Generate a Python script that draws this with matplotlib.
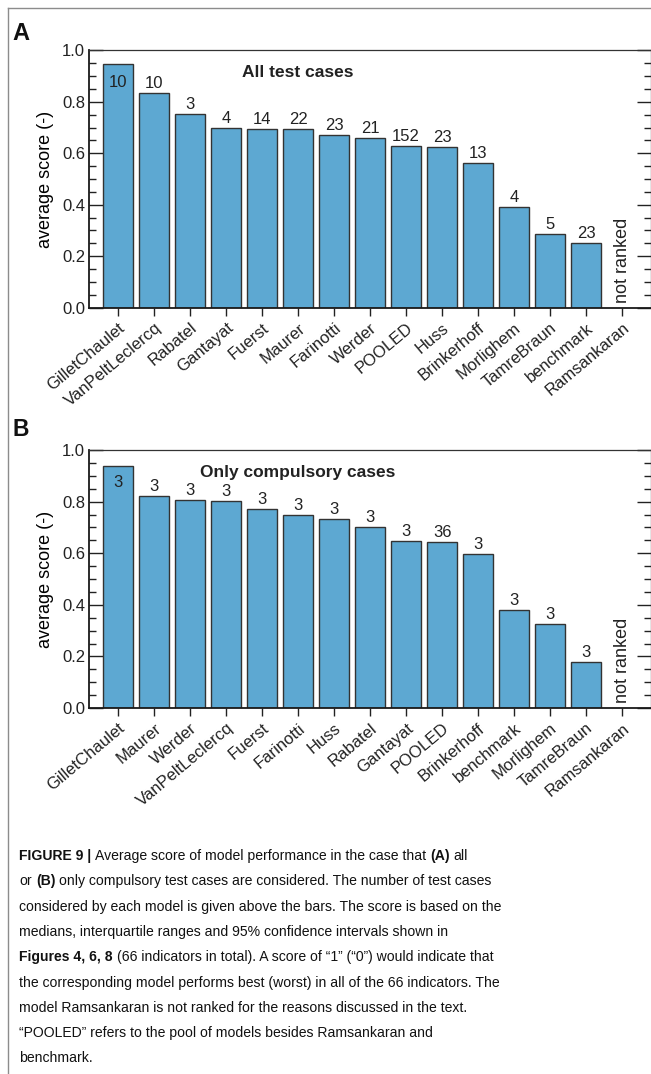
# -*- coding: utf-8 -*-
import numpy as np
import matplotlib
matplotlib.use('Agg')
import matplotlib.pyplot as plt
from matplotlib.ticker import MultipleLocator
from matplotlib.lines import Line2D
from matplotlib import font_manager

#########################################
### DATA
# (A) all test cases
models_a = ['GilletChaulet', 'VanPeltLeclercq', 'Rabatel', 'Gantayat', 'Fuerst',
            'Maurer', 'Farinotti', 'Werder', 'POOLED', 'Huss', 'Brinkerhoff',
            'Morlighem', 'TamreBraun', 'benchmark', 'Ramsankaran']
score_a = [0.946, 0.835, 0.753, 0.700, 0.696, 0.693, 0.671, 0.658, 0.627,
           0.623, 0.563, 0.393, 0.287, 0.253, np.nan]
ncases_a = [10, 10, 3, 4, 14, 22, 23, 21, 152, 23, 13, 4, 5, 23, 0]

# (B) only compulsory cases
models_b = ['GilletChaulet', 'Maurer', 'Werder', 'VanPeltLeclercq', 'Fuerst',
            'Farinotti', 'Huss', 'Rabatel', 'Gantayat', 'POOLED', 'Brinkerhoff',
            'benchmark', 'Morlighem', 'TamreBraun', 'Ramsankaran']
score_b = [0.937, 0.823, 0.805, 0.803, 0.772, 0.749, 0.733, 0.700, 0.649,
           0.645, 0.597, 0.379, 0.326, 0.177, np.nan]
ncases_b = [3, 3, 3, 3, 3, 3, 3, 3, 3, 36, 3, 3, 3, 3, 0]

caption = [
    [("FIGURE 9 |", True), (" Average score of model performance in the case that ", False),
     ("(A)", True), (" all", False)],
    [("or ", False), ("(B)", True),
     (" only compulsory test cases are considered. The number of test cases", False)],
    [("considered by each model is given above the bars. The score is based on the", False)],
    [("medians, interquartile ranges and 95% confidence intervals shown in", False)],
    [("Figures 4, 6, 8", True),
     (" (66 indicators in total). A score of \u201c1\u201d (\u201c0\u201d) would indicate that", False)],
    [("the corresponding model performs best (worst) in all of the 66 indicators. The", False)],
    [("model Ramsankaran is not ranked for the reasons discussed in the text.", False)],
    [("\u201cPOOLED\u201d refers to the pool of models besides Ramsankaran and", False)],
    [("benchmark.", False)],
]

#########################################
### DEFS
W, H = 651, 1074
plt.rcParams['font.family'] = ['Liberation Sans', 'DejaVu Sans']
plt.rcParams['text.color'] = '#222222'
plt.rcParams['xtick.color'] = '#222222'
plt.rcParams['ytick.color'] = '#222222'
barcolor = '#5DA8D2'
edgecolor = '#333333'

installed = {f.name for f in font_manager.fontManager.ttflist}
if 'Liberation Sans Narrow' in installed:
    capfont, capsize = 'Liberation Sans Narrow', 13.0
else:
    capfont, capsize = 'Liberation Sans', 10.1

fig = plt.figure(figsize=(W / 100, H / 100), dpi=100)


def panel(rect, models, scores, ncases, title):
    ax = fig.add_axes(rect)
    x = np.arange(len(models))
    scores = np.array(scores, dtype=float)
    ranked = ~np.isnan(scores)
    ax.bar(x[ranked], scores[ranked], width=0.82, color=barcolor,
           edgecolor=edgecolor, linewidth=1.0, zorder=2)
    for i in x:
        if ranked[i]:
            ax.text(i, min(scores[i] + 0.019, 0.858), str(ncases[i]), ha='center',
                    va='baseline', fontsize=12)
        else:
            ax.text(i, 0.02, 'not ranked', rotation=90, ha='center', va='bottom',
                    fontsize=13)
    ax.text(0.371, 0.914, title, transform=ax.transAxes, ha='center', va='center',
            fontsize=12.5, fontweight='bold')

    ax.set_xlim(-0.8, len(models) - 0.2)
    ax.set_ylim(0, 1.0)
    ax.set_xticks(x)
    ax.set_xticklabels(models, rotation=40, ha='right', va='top',
                       rotation_mode='anchor', fontsize=12)
    ax.yaxis.set_major_locator(MultipleLocator(0.2))
    ax.yaxis.set_minor_locator(MultipleLocator(0.05))
    ax.set_yticks(np.arange(0, 1.01, 0.2))
    ax.set_yticklabels(['%.1f' % v for v in np.arange(0, 1.01, 0.2)], fontsize=12)
    ax.tick_params(axis='y', which='both', direction='in', left=True, right=True,
                   width=1.0)
    ax.tick_params(axis='y', which='major', length=10, pad=3)
    ax.tick_params(axis='y', which='minor', length=5)
    ax.tick_params(axis='x', direction='out', length=6, width=1.0, pad=3)
    ax.set_ylabel('average score (-)', fontsize=13, labelpad=6)
    for s in ['left', 'bottom']:
        ax.spines[s].set_linewidth(1.3)
        ax.spines[s].set_color('#1a1a1a')
    for s in ['top', 'right']:
        ax.spines[s].set_linewidth(0.9)
        ax.spines[s].set_color('#333333')
    return ax


# axes rectangles in pixels: left, top, right, bottom
def rect(l, t, r, b):
    return [l / W, 1 - b / H, (r - l) / W, (b - t) / H]


ax_a = panel(rect(89.3, 50.3, 651.0, 307.7), models_a, score_a, ncases_a, 'All test cases')
ax_b = panel(rect(89.3, 450.0, 651.0, 708.0), models_b, score_b, ncases_b,
             'Only compulsory cases')

fig.text(12 / W, 1 - 33 / H, 'A', fontsize=17, fontweight='bold', ha='left',
         va='center', color='#111111')
fig.text(13 / W, 1 - 429 / H, 'B', fontsize=16.5, fontweight='bold', ha='left',
         va='center', color='#111111')

# frame lines round the figure
fig.add_artist(Line2D([8.3 / W, 8.3 / W], [0, 1 - 8.3 / H], transform=fig.transFigure,
                      color='#8c8c8c', lw=1.0))
fig.add_artist(Line2D([8.3 / W, 1], [1 - 8.3 / H, 1 - 8.3 / H], transform=fig.transFigure,
                      color='#8c8c8c', lw=1.0))

##################### CAPTION (mixed bold / regular runs)
fig.canvas.draw()
renderer = fig.canvas.get_renderer()


def text_width(s, bold):
    t = fig.text(0, 0, s, fontsize=capsize, family=capfont,
                 fontweight='bold' if bold else 'normal')
    w = t.get_window_extent(renderer).width
    t.remove()
    return w


def advance(s, bold):
    return text_width('X' + s + 'X', bold) - text_width('XX', bold)


for k, parts in enumerate(caption):
    xpx = 19.3
    base = 860 + 25.3 * k
    for txt, bold in parts:
        core = txt.strip()
        lead = len(txt) - len(txt.lstrip(' '))
        trail = len(txt) - len(txt.rstrip(' '))
        sp = advance(' ', bold)
        xpx += lead * sp
        fig.text(xpx / W, 1 - base / H, core, fontsize=capsize, family=capfont,
                 fontweight='bold' if bold else 'normal', ha='left', va='baseline',
                 color='#111111')
        xpx += advance(core, bold) + trail * sp

##################### SAVE
fig.savefig('out.png', dpi=100)
